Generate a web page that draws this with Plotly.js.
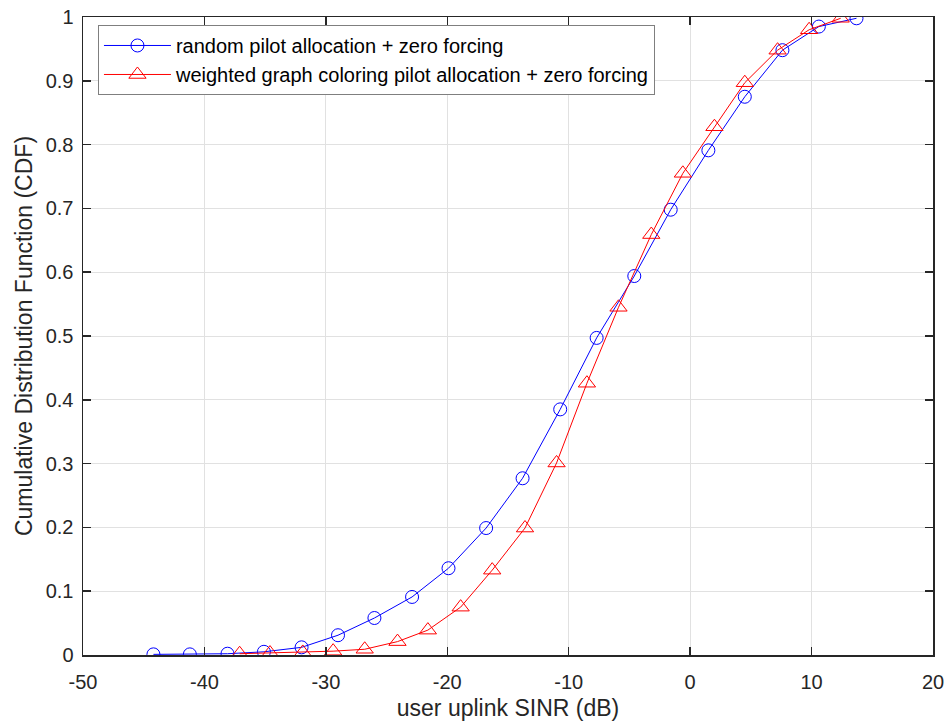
<!DOCTYPE html>
<html>
<head>
<meta charset="utf-8">
<script src="https://cdn.plot.ly/plotly-3.0.1.min.js"></script>
<style>html,body{margin:0;padding:0;background:#fff}#chart{width:952px;height:725px}</style>
</head>
<body>
<div id="chart"></div>
<script>
// Random pilot allocation + zero forcing
const randomX = [-44.2, -41.2, -38.1, -35.1, -32.0, -29.0, -26.0, -22.9, -19.9, -16.8,
                 -13.8, -10.7, -7.7, -4.6, -1.6, 1.5, 4.5, 7.6, 10.6, 13.7];
const randomY = [0.001, 0.001, 0.002, 0.005, 0.012, 0.031, 0.058, 0.091, 0.136, 0.199,
                 0.277, 0.385, 0.497, 0.594, 0.698, 0.791, 0.875, 0.948, 0.985, 0.998];
// Weighted graph coloring pilot allocation + zero forcing
const wgcX = [-37.1, -34.6, -31.9, -29.4, -26.8, -24.1, -21.6, -18.9, -16.3, -13.6,
              -11.0, -8.5, -5.9, -3.2, -0.6, 2.0, 4.5, 7.2, 9.8, 12.4];
const wgcY = [0.002, 0.003, 0.004, 0.006, 0.009, 0.021, 0.039, 0.075, 0.133, 0.199,
              0.301, 0.426, 0.545, 0.659, 0.755, 0.828, 0.897, 0.948, 0.980, 0.998];
const seriesNames = ['random pilot allocation + zero forcing',
                     'weighted graph coloring pilot allocation + zero forcing'];
const xTicks = [-50, -40, -30, -20, -10, 0, 10, 20];
const yTicks = [0, 0.1, 0.2, 0.3, 0.4, 0.5, 0.6, 0.7, 0.8, 0.9, 1];
const yTickLabels = ['0', '0.1', '0.2', '0.3', '0.4', '0.5', '0.6', '0.7', '0.8', '0.9', '1'];

const font = 'Arial, "Liberation Sans", Helvetica, sans-serif';
const traces = [
  {x: randomX, y: randomY, name: seriesNames[0], type: 'scatter', mode: 'lines+markers',
   line: {color: '#0000ff', width: 1},
   marker: {symbol: 'circle-open', size: 13, color: '#0000ff', line: {width: 1, color: '#0000ff'}}},
  {x: wgcX, y: wgcY, name: seriesNames[1], type: 'scatter', mode: 'lines+markers',
   line: {color: '#ff0000', width: 1},
   marker: {symbol: 'triangle-up-open', size: 15, color: '#ff0000', line: {width: 1, color: '#ff0000'}}}
];
const axisCommon = {
  showline: true, linecolor: '#262626', linewidth: 1.5, mirror: 'ticks',
  ticks: 'inside', ticklen: 8, tickwidth: 1.5, tickcolor: '#262626',
  showgrid: true, gridcolor: '#e1e1e1', gridwidth: 1, zeroline: false,
  tickfont: {family: font, size: 20, color: '#262626'}
};
const layout = {
  width: 952, height: 725,
  margin: {l: 83, r: 19, t: 17, b: 70},
  paper_bgcolor: '#ffffff', plot_bgcolor: '#ffffff',
  showlegend: true,
  xaxis: Object.assign({}, axisCommon, {
    range: [-50, 20], tickmode: 'array', tickvals: xTicks, ticktext: xTicks.map(String),
    ticklabelstandoff: 8,
    title: {text: 'user uplink SINR (dB)', font: {family: font, size: 23, color: '#262626'}, standoff: 8}
  }),
  yaxis: Object.assign({}, axisCommon, {
    range: [0, 1], tickmode: 'array', tickvals: yTicks, ticktext: yTickLabels,
    ticklabelstandoff: 4,
    title: {text: 'Cumulative Distribution Function (CDF)', font: {family: font, size: 23, color: '#262626'}, standoff: 6}
  }),
  legend: {
    x: 0.0176, y: 0.9875, xanchor: 'left', yanchor: 'top',
    bgcolor: '#ffffff', bordercolor: '#7f7f7f', borderwidth: 1,
    font: {family: font, size: 20, color: '#000000'},
    tracegroupgap: 0, itemwidth: 67
  }
};
Plotly.newPlot('chart', traces, layout, {displayModeBar: false, staticPlot: true});
</script>
</body>
</html>
